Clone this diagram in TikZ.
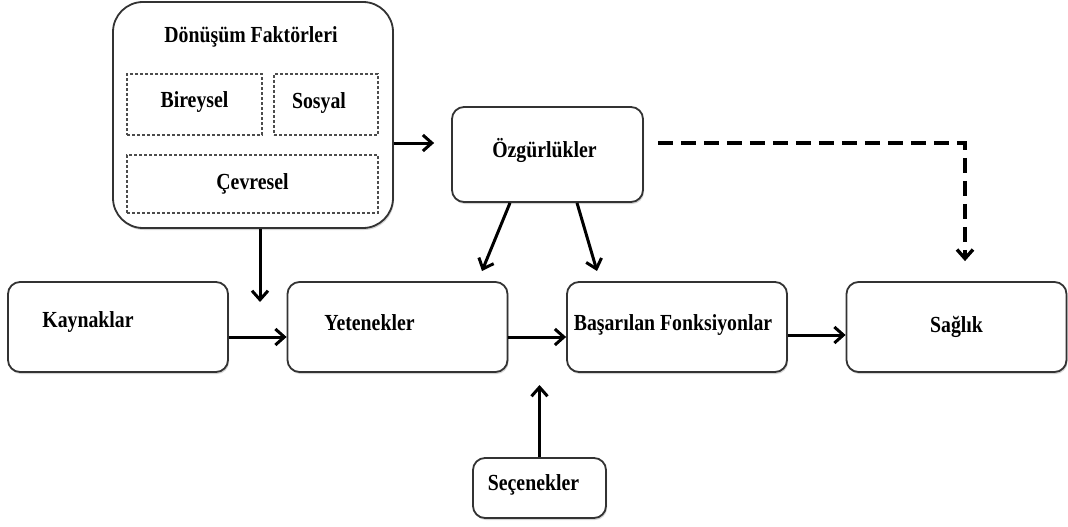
\documentclass[tikz,border=0pt]{standalone}
\usepackage{fontspec}
\setmainfont{Liberation Serif}[FakeStretch=0.86]
\usetikzlibrary{arrows.meta,calc,positioning,shadows}
\tikzset{
flow/.style={x=1pt,y=-1pt,node distance=57.7pt,
font=\bfseries\fontsize{23}{27}\selectfont},
box/.style={rectangle,rounded corners=12pt,draw=black!80,line width=1.8pt,fill=white,
minimum width=220pt,minimum height=90pt,inner sep=0pt,
drop shadow={shadow xshift=1pt,shadow yshift=-2pt,opacity=0.35}},
frame/.style={box,rounded corners=30pt,minimum width=280pt,minimum height=226pt},
part/.style={rectangle,draw=black!70,densely dashed,line width=1.1pt,inner sep=0pt,
minimum height=61pt},
txt/.style={inner sep=0pt},
link/.style={-{Straight Barb[length=9pt,width=16pt]},line width=3pt},
maybe/.style={link,dash pattern=on 15pt off 8pt,line width=3.4pt},
}
\begin{document}
\begin{tikzpicture}[flow]
                    \useasboundingbox (0,0) rectangle (1068,527);
                    \node[frame] (don) at (253,115) {};
                    \node[txt] (dont) at (251,37) {Dönüşüm Faktörleri};
                    \node[part,minimum width=135pt] (bir) at (194.5,104.5) {};
                    \node[txt] at ([yshift=2pt]bir) {Bireysel};
                    \node[part,minimum width=104pt] (sos) at (326,104.5) {};
                    \node[txt] at ([xshift=-7pt,yshift=1pt]sos) {Sosyal};
                    \node[part,minimum width=251pt,minimum height=58pt] (cev) at (252.5,184) {Çevresel};

                    \node[box,minimum width=191pt,minimum height=95pt] (ozg) at (547.5,154.5)
                        [label={[txt,xshift=-3pt,yshift=4pt]center:Özgürlükler}] {};
                    \node[box] (kay) at (118,327)
                        [label={[txt,xshift=-30pt,yshift=5pt]center:Kaynaklar}] {};
                    \node[box] (yet) [right = of kay]
                        [label={[txt,xshift=-28pt,yshift=4pt]center:Yetenekler}] {};
                    \node[box] (bas) [right = of yet]
                        [label={[txt,xshift=-4pt,yshift=2pt]center:Başarılan Fonksiyonlar}] {};
                    \node[box] (sag) [right = of bas] {Sağlık};
                    \node[box,minimum width=133pt,minimum height=60pt] (sec) at (539.5,488)
                        [label={[txt,xshift=-6pt,yshift=3pt]center:Seçenekler}] {};

                    \coordinate (dk) at (260,302);
                    \coordinate (oy) at (482,271);
                    \coordinate (ob) at (597,271);
                    \coordinate (sb) at (539.5,385);

                    \draw[link,shorten >=17pt] ([yshift=-28pt]don.east) -- ([yshift=-28pt]don.east -| ozg.west);
                    \draw[link] ([xshift=7pt]don.south) -- (dk);
                    \draw[link] ([yshift=-10pt]kay.east) -- ([yshift=-10pt]kay.east -| yet.west);
                    \draw[link] ([yshift=-10pt]yet.east) -- ([yshift=-10pt]yet.east -| bas.west);
                    \draw[link] ([yshift=-8pt]bas.east) -- ([yshift=-8pt]bas.east -| sag.west);
                    \draw[link] ([xshift=-37.5pt]ozg.south) -- (oy);
                    \draw[link] ([xshift=29.5pt]ozg.south) -- (ob);
                    \draw[link] (sec.north) -- (sb);
                    \draw[maybe,shorten <=14pt,shorten >=20pt] ([yshift=11.5pt]ozg.east) -| ([xshift=8.5pt]sag.north);
                \end{tikzpicture}
\end{document}
